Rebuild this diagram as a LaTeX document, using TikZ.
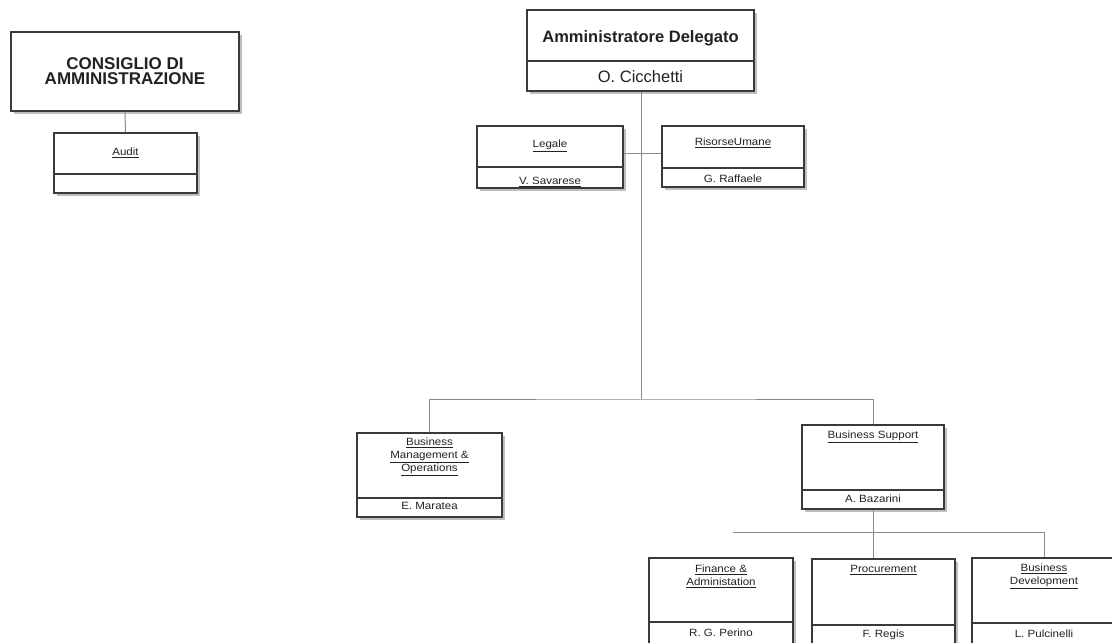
\documentclass[tikz,border=0pt]{standalone}
\usepackage{fontspec}
\setmainfont{Liberation Sans}
\newfontfamily\wfont[FakeStretch=1.1]{Liberation Sans}
\usetikzlibrary{shadows}
\definecolor{boxc}{HTML}{3A3A3A}
\definecolor{linec}{HTML}{8A8A8A}
\definecolor{txtc}{HTML}{222222}
\begin{document}
\begin{tikzpicture}[x=1pt,y=-1pt,
  box/.style={draw=boxc, line width=1.1pt, fill=white, inner sep=0pt,
    drop shadow={shadow xshift=2.5pt, shadow yshift=-2.5pt, fill=black!50}},
  conn/.style={draw=linec, line width=1pt},
  bigtitle/.style={text=txtc, font=\fontsize{16.5}{18}\selectfont\bfseries, inner sep=0pt},
  bigname/.style={text=txtc, font=\fontsize{16.5}{18}\selectfont, inner sep=0pt},
  cdatxt/.style={text=txtc, font=\fontsize{17}{15.5}\selectfont\bfseries, align=center, inner sep=0pt},
  stitle/.style={text=txtc, font=\wfont\fontsize{10.5}{13}\selectfont, align=center, inner sep=0pt},
  sname/.style={text=txtc, font=\wfont\fontsize{10.5}{13}\selectfont, inner sep=0pt}
]
\clip (0,0) rectangle (1112,643);
\fill[white] (0,0) rectangle (1112,643);

% ---------- boxes ----------
% Consiglio di Amministrazione
\node[box, minimum width=228pt, minimum height=79pt] (cda) at (125,71.5) {};
\node[cdatxt] (cdaL) at (125,71) {CONSIGLIO DI\\AMMINISTRAZIONE};
% Audit
\node[box, minimum width=143pt, minimum height=41pt] (auditT) at (125.5,153.5) {};
\node[box, minimum width=143pt, minimum height=19pt] (auditB) at (125.5,183.5) {};
\node[stitle] (auditL) at (125.5,153) {\underline{Audit}};
% Amministratore Delegato
\node[box, minimum width=227pt, minimum height=51pt] (adT) at (640.5,35.5) {};
\node[box, minimum width=227pt, minimum height=30pt] (adB) at (640.5,76) {};
\node[bigtitle] (adL) at (640.5,38) {Amministratore Delegato};
\node[bigname] (adN) at (640.5,77) {O. Cicchetti};
% Legale
\node[box, minimum width=146pt, minimum height=41pt] (legT) at (550,146.5) {};
\node[box, minimum width=146pt, minimum height=21pt] (legB) at (550,177.5) {};
\node[stitle] (legL) at (550,146) {\underline{Legale}};
\node[sname] (legN) at (550,182) {\underline{V. Savarese}};
% Risorse Umane
\node[box, minimum width=142pt, minimum height=42pt] (ruT) at (733,147) {};
\node[box, minimum width=142pt, minimum height=19pt] (ruB) at (733,177.5) {};
\node[stitle] (ruL) at (733,143) {\underline{RisorseUmane}};
\node[sname] (ruN) at (733,179) {G. Raffaele};
% Business Management & Operations
\node[box, minimum width=145pt, minimum height=65pt] (bmoT) at (429.5,465.5) {};
\node[box, minimum width=145pt, minimum height=19pt] (bmoB) at (429.5,507.5) {};
\node[stitle] (bmoL) at (429.5,457) {\underline{Business}\\\underline{Management \&}\\\underline{Operations}};
\node[sname] (bmoN) at (429.5,506) {E. Maratea};
% Business Support
\node[box, minimum width=142pt, minimum height=65pt] (bsT) at (873,457.5) {};
\node[box, minimum width=142pt, minimum height=19pt] (bsB) at (873,499.5) {};
\node[stitle] (bsL) at (873,437) {\underline{Business Support}};
\node[sname] (bsN) at (873,499) {A. Bazarini};
% Finance & Administation
\node[box, minimum width=144pt, minimum height=64pt] (finT) at (721,590) {};
\node[box, minimum width=144pt, minimum height=36pt] (finB) at (721,640) {};
\node[stitle] (finL) at (721,576) {\underline{Finance \&}\\\underline{Administation}};
\node[sname] (finN) at (721,633) {R. G. Perino};
% Procurement
\node[box, minimum width=143pt, minimum height=66pt] (procT) at (883.5,592) {};
\node[box, minimum width=143pt, minimum height=34pt] (procB) at (883.5,642) {};
\node[stitle] (procL) at (883.5,570) {\underline{Procurement}};
\node[sname] (procN) at (883.5,635) {F. Regis};
% Business Development
\node[box, minimum width=144pt, minimum height=65pt] (bdT) at (1044,590.5) {};
\node[box, minimum width=144pt, minimum height=36pt] (bdB) at (1044,641) {};
\node[stitle] (bdL) at (1044,576.5) {\underline{Business}\\\underline{Development}};
\node[sname] (bdN) at (1044,634) {L. Pulcinelli};

% ---------- connectors ----------
\coordinate (jstaff) at (641,153);
\coordinate (jmain) at (641,399);
\coordinate (subL) at (733,532);

\path[conn] (cda.south) -- (auditT.north);
\path[conn] (adB.south -| jmain) -- (jmain);
\path[conn] (legT.east |- jstaff) -- (ruT.west |- jstaff);
\path[conn] (bmoT.north) |- (jmain) -| (bsT.north);
\path[conn] (bsB.south) -- (bsB.south |- procT.north);
\path[conn] (subL) -| (bdT.north);
\end{tikzpicture}
\end{document}
